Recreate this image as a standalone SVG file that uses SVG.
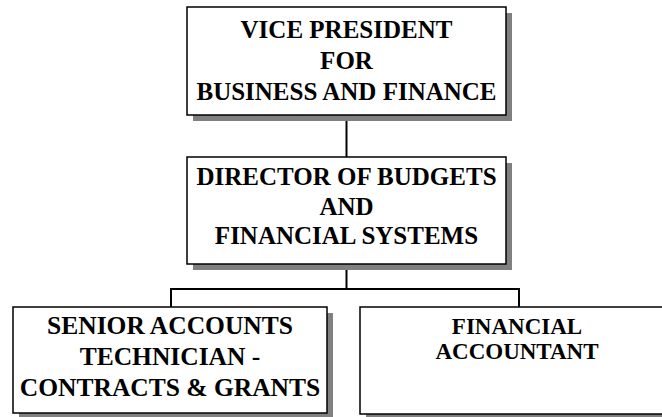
<svg xmlns="http://www.w3.org/2000/svg" width="662" height="417" viewBox="0 0 662 417">
<style>
  .shadow { fill: #808080; }
  .box { fill: #ffffff; stroke: #000000; stroke-width: 1.5; }
  .lbl { font-family: "Liberation Serif", "Times New Roman", serif; font-weight: bold; fill: #000000; text-anchor: middle; }
  .conn { fill: none; stroke: #000000; stroke-width: 2; }
</style>
<rect width="662" height="417" fill="#ffffff"/>
<g id="connectors">
  <line class="conn" x1="346.5" y1="115" x2="346.5" y2="157"/>
  <line class="conn" x1="346.5" y1="264" x2="346.5" y2="289"/>
  <polyline class="conn" points="171,307 171,289 519,289 519,307"/>
</g>
<g id="vp">
  <rect class="shadow" x="193" y="13" width="319" height="108"/>
  <rect class="box" x="187" y="7" width="319" height="108"/>
  <text class="lbl" font-size="25" x="346.5" y="37.5">VICE PRESIDENT</text>
  <text class="lbl" font-size="25" x="346.5" y="69">FOR</text>
  <text class="lbl" font-size="25" x="346.5" y="100">BUSINESS AND FINANCE</text>
</g>
<g id="director">
  <rect class="shadow" x="193" y="163" width="319" height="107"/>
  <rect class="box" x="187" y="157" width="319" height="107"/>
  <text class="lbl" font-size="25" x="346.5" y="185">DIRECTOR OF BUDGETS</text>
  <text class="lbl" font-size="25" x="346.5" y="215">AND</text>
  <text class="lbl" font-size="25" x="346.5" y="244">FINANCIAL SYSTEMS</text>
</g>
<g id="senior">
  <rect class="shadow" x="19" y="313" width="314" height="106"/>
  <rect class="box" x="13" y="307" width="314" height="106"/>
  <text class="lbl" font-size="25.5" x="170" y="334">SENIOR ACCOUNTS</text>
  <text class="lbl" font-size="25.5" x="170" y="365">TECHNICIAN -</text>
  <text class="lbl" font-size="25.5" x="170" y="396">CONTRACTS &amp; GRANTS</text>
</g>
<g id="accountant">
  <rect class="shadow" x="366" y="313" width="314" height="107"/>
  <rect class="box" x="360" y="307" width="314" height="107"/>
  <text class="lbl" font-size="23" x="517" y="334">FINANCIAL</text>
  <text class="lbl" font-size="23" x="517" y="359">ACCOUNTANT</text>
</g>
</svg>
